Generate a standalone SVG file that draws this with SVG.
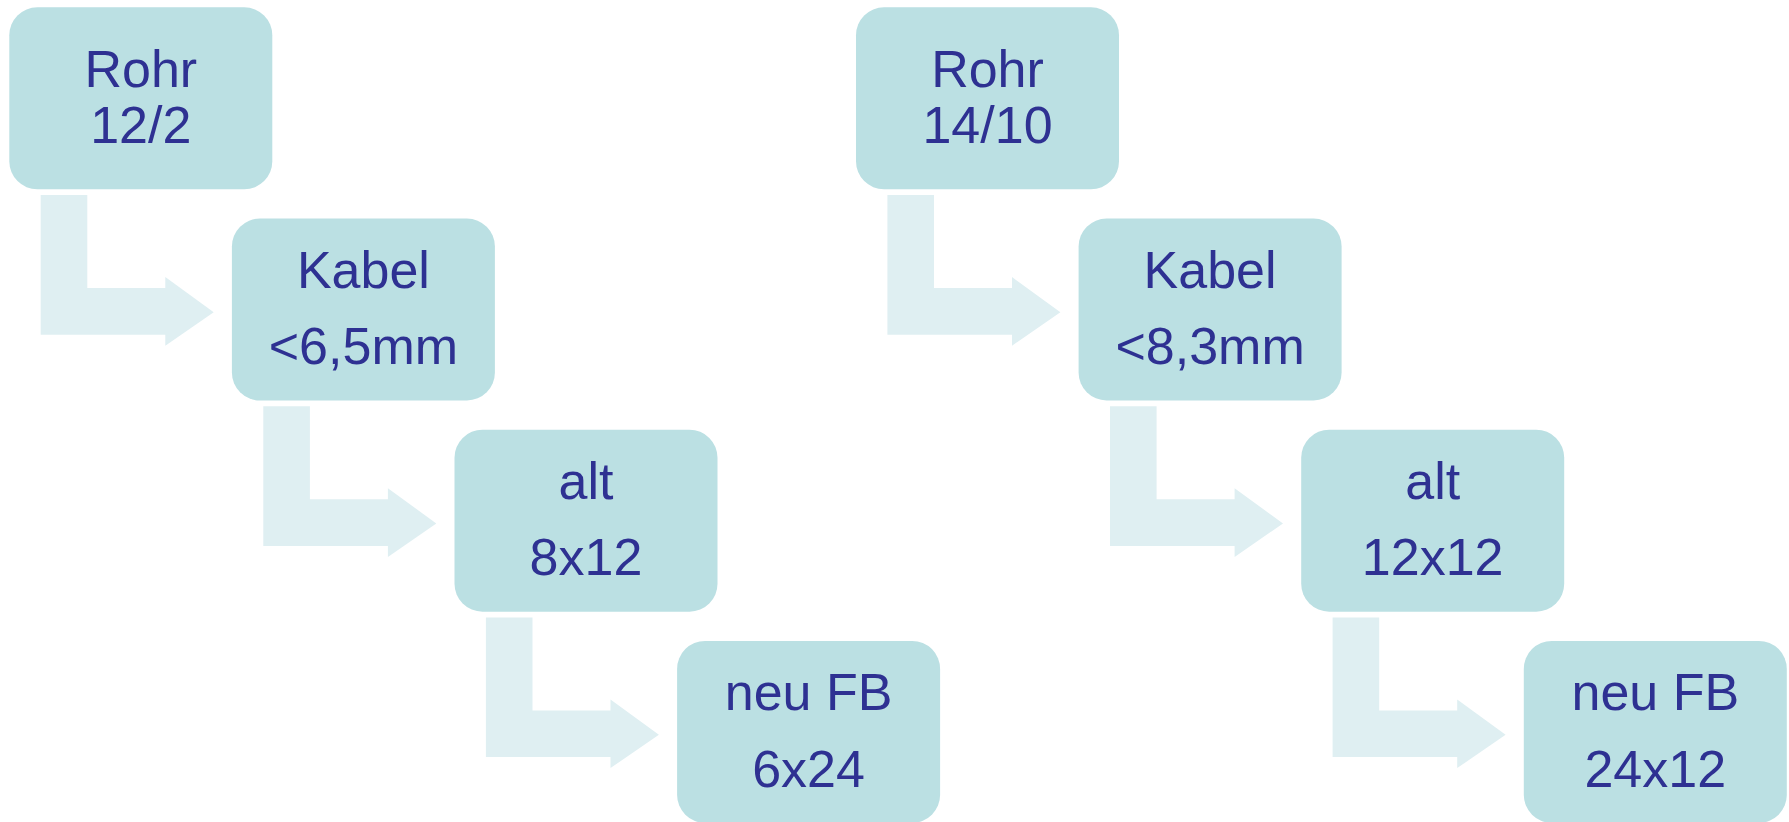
<svg xmlns="http://www.w3.org/2000/svg" width="1789" height="822" viewBox="0 0 1789 822">
<style>
.box{fill:#BBE0E3;}
.arr{fill:#DFEFF2;}
.t{font-family:"Liberation Sans",Arial,sans-serif;font-size:52px;fill:#2E3192;text-anchor:middle;}
</style>
<defs>
<path id="arrow" d="M0,0 H46.6 V93 H124.6 V82 L173,117.3 L124.6,150.7 V139.7 H0 Z"/>
</defs>
<rect width="1789" height="822" fill="#ffffff"/>
<g id="connectors">
<use href="#arrow" class="arr" x="40.7" y="195"/>
<use href="#arrow" class="arr" x="263.3" y="406.2"/>
<use href="#arrow" class="arr" x="485.9" y="617.4"/>
<use href="#arrow" class="arr" x="887.4" y="195"/>
<use href="#arrow" class="arr" x="1110" y="406.2"/>
<use href="#arrow" class="arr" x="1332.6" y="617.4"/>
</g>
<g id="l-rohr">
<rect class="box" x="9.3" y="7.3" width="263" height="182" rx="28"/>
<text class="t" x="140.8" y="87.3">Rohr</text>
<text class="t" x="140.8" y="142.7">12/2</text>
</g>
<g id="l-kabel">
<rect class="box" x="231.9" y="218.5" width="263" height="182" rx="28"/>
<text class="t" x="363.4" y="287.5">Kabel</text>
<text class="t" x="363.4" y="364.2">&lt;6,5mm</text>
</g>
<g id="l-alt">
<rect class="box" x="454.5" y="429.7" width="263" height="182" rx="28"/>
<text class="t" x="586" y="498.7">alt</text>
<text class="t" x="586" y="575.4">8x12</text>
</g>
<g id="l-neu">
<rect class="box" x="677.1" y="640.9" width="263" height="182" rx="28"/>
<text class="t" x="808.6" y="709.9">neu FB</text>
<text class="t" x="808.6" y="786.6">6x24</text>
</g>
<g id="r-rohr">
<rect class="box" x="856" y="7.3" width="263" height="182" rx="28"/>
<text class="t" x="987.5" y="87.3">Rohr</text>
<text class="t" x="987.5" y="142.7">14/10</text>
</g>
<g id="r-kabel">
<rect class="box" x="1078.6" y="218.5" width="263" height="182" rx="28"/>
<text class="t" x="1210.1" y="287.5">Kabel</text>
<text class="t" x="1210.1" y="364.2">&lt;8,3mm</text>
</g>
<g id="r-alt">
<rect class="box" x="1301.2" y="429.7" width="263" height="182" rx="28"/>
<text class="t" x="1432.7" y="498.7">alt</text>
<text class="t" x="1432.7" y="575.4">12x12</text>
</g>
<g id="r-neu">
<rect class="box" x="1523.8" y="640.9" width="263" height="182" rx="28"/>
<text class="t" x="1655.3" y="709.9">neu FB</text>
<text class="t" x="1655.3" y="786.6">24x12</text>
</g>
</svg>
